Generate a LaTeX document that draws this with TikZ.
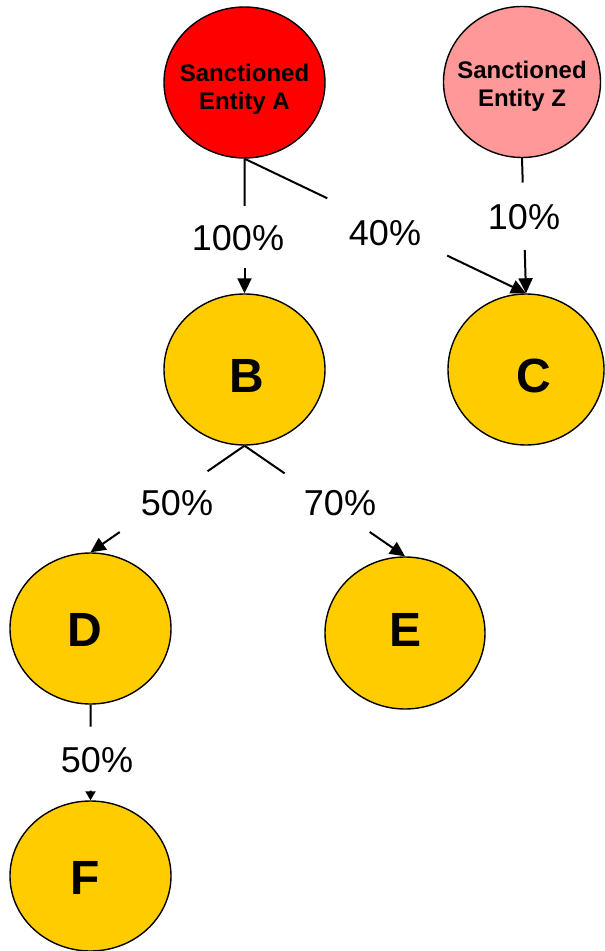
\documentclass[tikz,border=0pt]{standalone}
\usepackage{fontspec}
\setmainfont{Liberation Sans}
\usetikzlibrary{shapes.geometric,arrows.meta,calc}
\begin{document}
\begin{tikzpicture}[x=0.5pt,y=-0.5pt,
  ent/.style={ellipse,draw=black,line width=0.7pt,inner sep=0pt},
  big/.style={ent,fill=gold},
  bigtxt/.style={font=\fontsize{24}{26}\selectfont\bfseries,inner sep=0pt},
  sanctxt/.style={align=center,inner sep=0pt,font=\fontsize{12}{14}\selectfont\bfseries},
  pct/.style={font=\fontsize{18}{20}\selectfont,inner sep=0pt},
  conn/.style={line width=1pt},
  arr/.style={line width=1pt,-{Triangle[length=7.5pt,width=7pt]}},
  smallarr/.style={line width=1pt,-{Triangle[length=4.5pt,width=5pt]}}
]
\definecolor{gold}{HTML}{FFCC00}
\definecolor{pinkz}{HTML}{FF9999}
\useasboundingbox (0,0) rectangle (604,951);
\node[ent,fill=red,minimum width=80.5pt,minimum height=75.5pt,
  label={[sanctxt,yshift=-3.25pt]center:Sanctioned\\Entity A}] (A) at (244.5,82.5) {};
\node[ent,fill=pinkz,minimum width=78.5pt,minimum height=75.5pt,
  label={[sanctxt,yshift=-2pt]center:Sanctioned\\Entity Z}] (Z) at (522,82) {};
\node[big,minimum width=80.5pt,minimum height=75.5pt,
  label={[bigtxt,xshift=1.25pt,yshift=-3.25pt]center:B}] (B) at (244.5,369.5) {};
\node[big,minimum width=78pt,minimum height=75.5pt,
  label={[bigtxt,xshift=4pt,yshift=-3.25pt]center:C}] (C) at (526,369.5) {};
\node[big,minimum width=80.5pt,minimum height=75.5pt,
  label={[bigtxt,xshift=-3pt,yshift=-0.5pt]center:D}] (D) at (90.5,628.5) {};
\node[big,minimum width=80pt,minimum height=76pt,
  label={[bigtxt,yshift=1.75pt]center:E}] (E) at (405,633) {};
\node[big,minimum width=80.5pt,minimum height=75pt,
  label={[bigtxt,xshift=-2.75pt,yshift=-1pt]center:F}] (F) at (90.5,876) {};

\node[pct] (l100) at (238,238) {100\%};
\node[pct] (l40) at (385,233) {40\%};
\node[pct] (l10) at (524,217) {10\%};
\node[pct] (l50a) at (177,503) {50\%};
\node[pct] (l70) at (340,503) {70\%};
\node[pct] (l50b) at (97,760) {50\%};

% A -> B
\draw[conn] (A.south) -- ($(A.south)!0.35!(B.north)$);
\draw[arr] ($(A.south)!0.81!(B.north)$) -- (B.north);
% A -> C
\draw[conn] (A.south) -- ($(A.south)!0.294!(C.north)$);
\draw[arr] ($(A.south)!0.72!(C.north)$) -- (C.north);
% Z -> C
\draw[conn] (Z.south) -- ($(Z.south)!0.18!(C.north)$);
\draw[arr] ($(Z.south)!0.68!(C.north)$) -- (C.north);
% B -> D
\draw[conn] (B.south) -- ($(B.south)!0.24!(D.north)$);
\draw[arr] ($(B.south)!0.81!(D.north)$) -- (D.north);
% B -> E
\draw[conn] (B.south) -- ($(B.south)!0.25!(E.north)$);
\draw[arr] ($(B.south)!0.78!(E.north)$) -- (E.north);
% D -> F
\draw[conn] (D.south) -- ($(D.south)!0.23!(F.north)$);
\draw[smallarr] ($(D.south)!0.9!(F.north)$) -- (F.north);
\end{tikzpicture}
\end{document}
